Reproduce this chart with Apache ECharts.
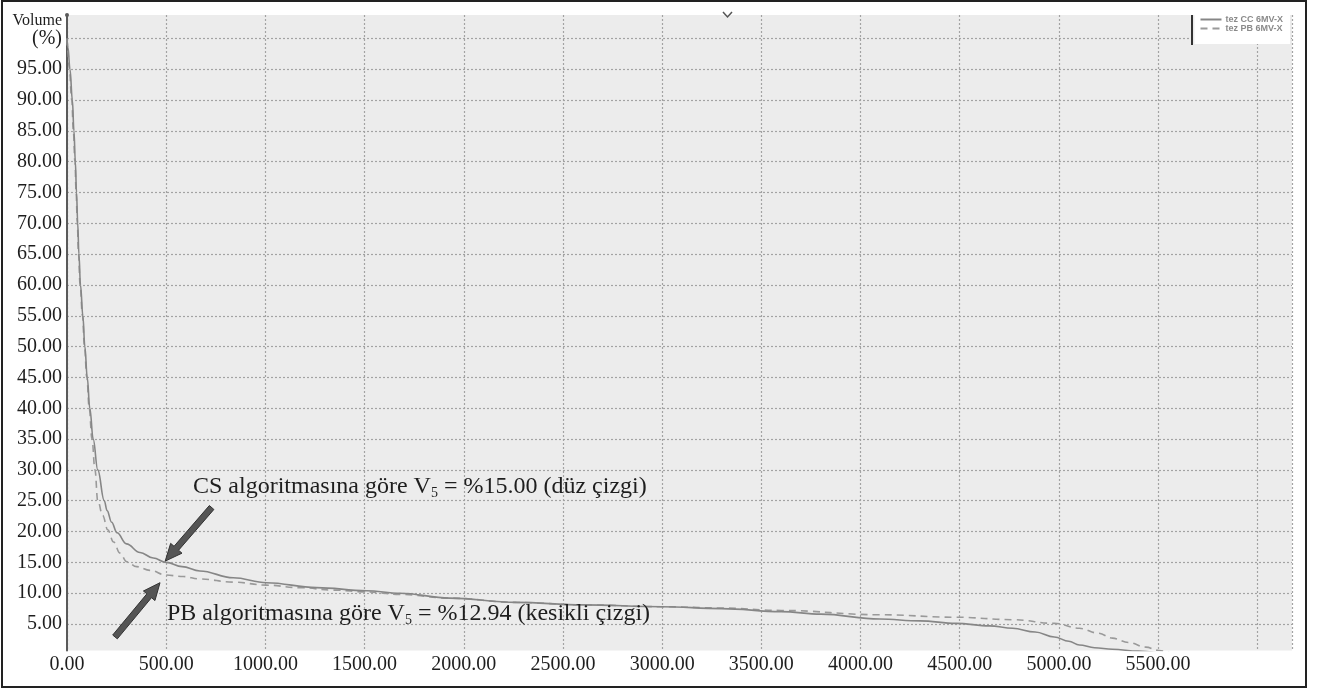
<!DOCTYPE html>
<html>
<head>
<meta charset="utf-8">
<title>DVH – CS / PB</title>
<script src="https://cdn.jsdelivr.net/npm/echarts@6/dist/echarts.min.js"></script>
<style>
  html, body { margin: 0; padding: 0; background: #ffffff; }
  #chart { width: 1322px; height: 691px; }
</style>
</head>
<body>
<div id="chart"></div>
<script>
// Dose (cGy) / volume (%) pairs of the two cumulative DVH curves
const seriesNames = ['tez CC 6MV-X', 'tez PB 6MV-X'];

const csCurve = [
  [0, 100], [5, 98.5], [15, 95], [27, 90], [35, 85], [42, 80], [48, 75], [54, 70],
  [60, 65], [68, 60], [80, 55], [90, 50], [102, 45], [115, 40], [132, 35], [155, 30],
  [188, 25], [202, 23.4], [225, 21.5], [252, 19.8], [300, 18.0], [368, 16.6], [435, 15.7],
  [500, 15.0], [580, 14.3], [670, 13.6], [838, 12.5], [1006, 11.7], [1258, 10.9],
  [1510, 10.4], [1678, 10.0], [1929, 9.2], [2265, 8.5], [2600, 8.1], [3000, 7.8],
  [3300, 7.5], [3600, 7.0], [3800, 6.6], [4096, 5.8], [4300, 5.5], [4482, 5.1],
  [4650, 4.7], [4767, 4.3], [4880, 3.7], [4977, 2.9], [5050, 2.2], [5103, 1.6],
  [5180, 1.15], [5270, 0.9], [5400, 0.6], [5500, 0.3]
];

const pbCurve = [
  [0, 100], [4, 98], [12, 95], [24, 90], [32, 85], [40, 80], [46, 75], [52, 70],
  [58, 65], [66, 60], [78, 55], [88, 50], [100, 45], [112, 40], [126, 35], [141, 30],
  [155, 25], [180, 22.6], [205, 20.3], [235, 18.3], [267, 16.5], [301, 15.1],
  [351, 14.3], [418, 13.7], [500, 12.94], [586, 12.7], [670, 12.3], [838, 11.8],
  [1006, 11.3], [1174, 10.9], [1343, 10.5], [1510, 10.2], [1678, 9.8], [1929, 9.2],
  [2265, 8.5], [2600, 8.1], [3000, 7.8], [3300, 7.6], [3600, 7.2], [4096, 6.5],
  [4482, 6.1], [4767, 5.7], [4977, 5.1], [5103, 4.3], [5200, 3.5], [5270, 2.7],
  [5350, 2.0], [5438, 1.25], [5505, 0.7], [5560, 0.3]
];

// V5 values quoted in the annotations
const v5Values = { cs: 15.00, pb: 12.94 };

// Axis ticks
const yTicks = [5, 10, 15, 20, 25, 30, 35, 40, 45, 50, 55, 60, 65, 70, 75, 80, 85, 90, 95, 100];
const xLabelMax = 5500;

const serif = '"Liberation Serif", "Times New Roman", serif';

const chart = echarts.init(document.getElementById('chart'), null, { renderer: 'canvas' });

const gridLine = { color: '#a3a3a3', width: 1.2, type: [2, 2] };

chart.setOption({
  backgroundColor: '#ffffff',
  animation: false,
  grid: {
    left: 67, right: 30, top: 15, bottom: 40.5,
    show: true, backgroundColor: '#ececec', borderWidth: 0
  },
  legend: {
    orient: 'vertical',
    right: 32, top: 15,
    backgroundColor: '#ffffff',
    padding: [0, 7, 11, 5],
    itemWidth: 21, itemHeight: 10, itemGap: 0,
    itemStyle: { opacity: 0 },
    textStyle: { fontSize: 9, color: '#8a8a8a', fontWeight: 'bold', fontFamily: 'Arial, sans-serif', padding: [0, 0, 0, -1] },
    data: seriesNames
  },
  xAxis: {
    type: 'value', min: 0, max: 6175, interval: 500,
    axisLine: { show: false },
    axisTick: { show: false },
    axisLabel: {
      margin: 4, fontSize: 20, color: '#1e1e1e', fontFamily: serif,
      showMaxLabel: false,
      formatter: v => (v > xLabelMax ? '' : v.toFixed(2))
    },
    splitLine: { show: true, lineStyle: gridLine }
  },
  yAxis: {
    type: 'value', min: 0.7, max: 103.8,
    name: 'Volume',
    nameLocation: 'end',
    nameGap: -9,
    nameTextStyle: { fontSize: 16, color: '#1e1e1e', fontFamily: serif, align: 'right', verticalAlign: 'middle', padding: [0, 5, 0, 0] },
    axisLine: { show: true, lineStyle: { color: '#5a5a5a', width: 2 }, symbol: ['none', 'circle'], symbolSize: [4, 4] },
    axisTick: { show: false, customValues: yTicks },
    axisLabel: {
      customValues: yTicks,
      margin: 5, fontSize: 20, color: '#1e1e1e', fontFamily: serif,
      formatter: v => (v === 100 ? '(%)' : v.toFixed(2))
    },
    splitLine: { show: true, lineStyle: gridLine }
  },
  series: [
    {
      name: seriesNames[0], type: 'line', data: csCurve,
      showSymbol: false, symbol: 'none', smooth: 0.4, smoothMonotone: 'x', clip: true,
      lineStyle: { color: '#868686', width: 1.6, type: 'solid' },
      itemStyle: { color: '#868686' }, z: 3
    },
    {
      name: seriesNames[1], type: 'line', data: pbCurve,
      showSymbol: false, symbol: 'none', smooth: 0.4, smoothMonotone: 'x', clip: true,
      lineStyle: { color: '#9a9a9a', width: 1.6, type: [7, 5] },
      itemStyle: { color: '#9a9a9a' }, z: 2
    }
  ]
});

// Callout arrows and texts, anchored in data coordinates
function px(pt) { return chart.convertToPixel({ gridIndex: 0 }, pt); }

function arrowPoints(tail, tip, shaftHalf, headHalf, headLen) {
  const dx = tip[0] - tail[0], dy = tip[1] - tail[1];
  const len = Math.hypot(dx, dy);
  const ux = dx / len, uy = dy / len;
  const nx = -uy, ny = ux;
  const hx = tip[0] - ux * headLen, hy = tip[1] - uy * headLen;
  return [
    [tail[0] + nx * shaftHalf, tail[1] + ny * shaftHalf],
    [hx + nx * shaftHalf, hy + ny * shaftHalf],
    [hx + nx * headHalf, hy + ny * headHalf],
    [tip[0], tip[1]],
    [hx - nx * headHalf, hy - ny * headHalf],
    [hx - nx * shaftHalf, hy - ny * shaftHalf],
    [tail[0] - nx * shaftHalf, tail[1] - ny * shaftHalf]
  ];
}

const csTip = px([495, v5Values.cs + 0.2]);
const csTail = px([729, 23.9]);
const pbTip = px([469, 11.7]);
const pbTail = px([242, 2.9]);
const csTextAt = px([635, 27.2]);
const pbTextAt = px([504, 6.6]);

const calloutRich = {
  t: { fontSize: 24, fontFamily: serif, fill: '#1e1e1e' },
  sub: { fontSize: 14, fontFamily: serif, fill: '#1e1e1e', padding: [12, 0, 0, 0] }
};

const arrowStyle = { fill: '#555555', stroke: '#333333', lineWidth: 1 };

chart.setOption({
  graphic: [
    {
      type: 'polygon', z: 50,
      shape: { points: arrowPoints(csTail, csTip, 3, 7.5, 17) },
      style: arrowStyle
    },
    {
      type: 'polygon', z: 50,
      shape: { points: arrowPoints(pbTail, pbTip, 3, 7.5, 17) },
      style: arrowStyle
    },
    {
      type: 'text', z: 50, x: csTextAt[0], y: csTextAt[1],
      style: {
        text: '{t|CS algoritmasına göre V}{sub|5}{t| = %' + v5Values.cs.toFixed(2) + ' (düz çizgi)}',
        rich: calloutRich, verticalAlign: 'middle', align: 'left'
      }
    },
    {
      type: 'text', z: 50, x: pbTextAt[0], y: pbTextAt[1],
      style: {
        text: '{t|PB algoritmasına göre V}{sub|5}{t| = %' + v5Values.pb.toFixed(2) + ' (kesikli çizgi)}',
        rich: calloutRich, verticalAlign: 'middle', align: 'left'
      }
    },
    // divider on the left side of the legend box
    {
      type: 'line', z: 60,
      shape: { x1: 1192, y1: 15, x2: 1192, y2: 45 },
      style: { stroke: '#333333', lineWidth: 2 }
    },
    // small cursor mark on the top edge of the plot
    {
      type: 'polyline', z: 60,
      shape: { points: [[723, 12], [727.5, 17], [732, 12]] },
      style: { stroke: '#555555', lineWidth: 1.5, fill: null }
    },
    // outer frame
    {
      type: 'rect', z: 100, silent: true,
      shape: { x: 2, y: 1, width: 1304, height: 686 },
      style: { fill: null, stroke: '#222222', lineWidth: 2 }
    }
  ]
});
</script>
</body>
</html>
